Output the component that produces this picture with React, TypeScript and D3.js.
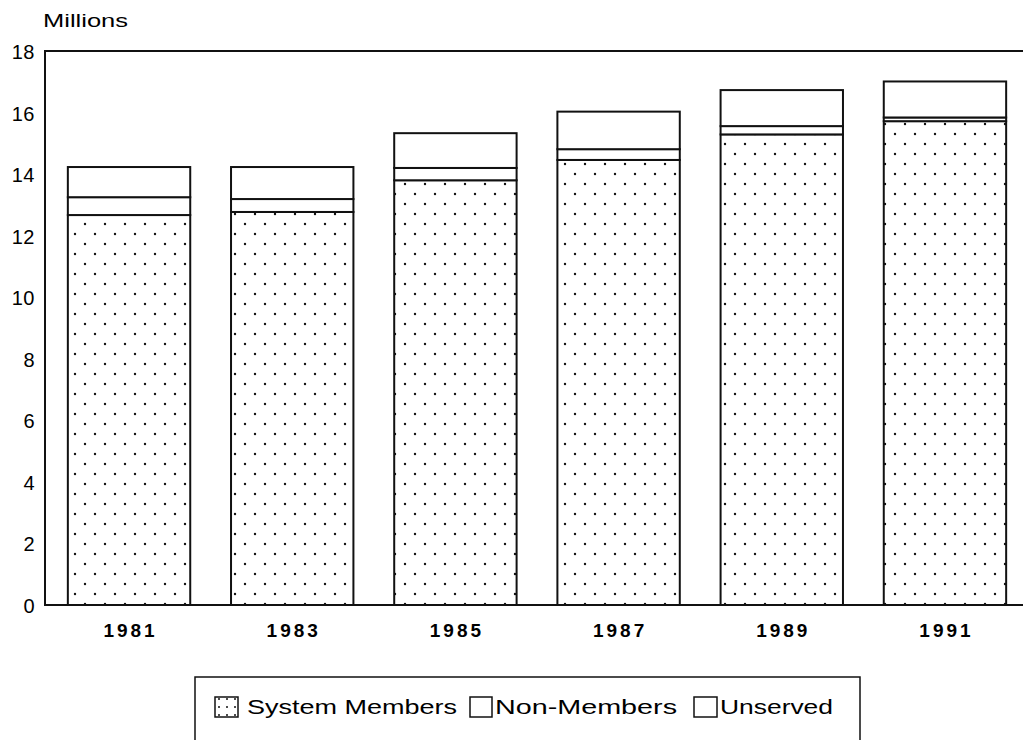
import React from 'react';
import * as d3 from 'd3';

const years = ['1981', '1983', '1985', '1987', '1989', '1991'];
const systemMembers = [12.67, 12.77, 13.8, 14.46, 15.29, 15.72];
const nonMembers = [0.58, 0.42, 0.4, 0.35, 0.27, 0.12];
const unserved = [0.98, 1.04, 1.13, 1.22, 1.17, 1.17];
const yTicks = [0, 2, 4, 6, 8, 10, 12, 14, 16, 18];
const seriesNames = ['System Members', 'Non-Members', 'Unserved'];

const width = 1023;
const height = 740;
const font = '"Liberation Sans", Arial, sans-serif';

export default function App() {
  const x = d3.scaleBand<string>()
    .domain(years)
    .range([45, 1029])
    .paddingInner(0.25)
    .paddingOuter(0.14);

  const y = d3.scaleLinear().domain([0, 18]).range([605, 51]);

  const rows = years.map((yr, i) => ({
    year: yr,
    sys: systemMembers[i],
    non: nonMembers[i],
    uns: unserved[i],
  }));
  const stack = d3.stack<typeof rows[number]>().keys(['sys', 'non', 'uns']);
  const layers = stack(rows);
  const fills = ['url(#dots)', 'white', 'white'];

  // legend layout (swatch x, label x, label width)
  const legendItems = [
    { swatch: 215, sw: 23, textX: 247, len: 210 },
    { swatch: 470, sw: 22, textX: 495, len: 182 },
    { swatch: 694, sw: 23, textX: 720, len: 113 },
  ];

  return (
    <svg
      width={width}
      height={height}
      style={{ position: 'absolute', left: 0, top: 0, background: 'white' }}
    >
      <defs>
        <pattern id="dots" patternUnits="userSpaceOnUse" width={20} height={20}>
          <rect width={20} height={20} fill="white" />
          <circle cx={5} cy={4} r={1.2} fill="#111" />
          <circle cx={15} cy={14} r={1.2} fill="#111" />
        </pattern>
        <pattern id="dotsLegend" patternUnits="userSpaceOnUse" width={8} height={8}>
          <rect width={8} height={8} fill="white" />
          <circle cx={3} cy={3} r={1} fill="#111" />
        </pattern>
      </defs>

      <text x={43} y={27} fontFamily={font} fontSize={18} textLength={85} lengthAdjust="spacingAndGlyphs">
        Millions
      </text>

      {yTicks.map((t) => (
        <text
          key={t}
          x={35}
          y={y(t) + 8}
          textAnchor="end"
          fontFamily={font}
          fontSize={20}
          letterSpacing={0.5}
        >
          {t}
        </text>
      ))}

      {layers.map((layer, li) =>
        layer.map((d, i) => (
          <rect
            key={`${li}-${i}`}
            x={x(years[i])}
            y={y(d[1])}
            width={x.bandwidth()}
            height={y(d[0]) - y(d[1])}
            fill={fills[li]}
            stroke="#111"
            strokeWidth={2}
          />
        ))
      )}

      <rect x={45} y={51} width={1010} height={554} fill="none" stroke="#111" strokeWidth={2} />

      {years.map((yr) => (
        <text
          key={yr}
          x={(x(yr) as number) + x.bandwidth() / 2 + 1.5}
          y={637}
          textAnchor="middle"
          fontFamily={font}
          fontSize={19}
          fontWeight="bold"
          letterSpacing={3}
        >
          {yr}
        </text>
      ))}

      <rect x={195} y={677} width={665} height={90} fill="none" stroke="#111" strokeWidth={1.5} />
      {legendItems.map((it, i) => (
        <g key={seriesNames[i]}>
          <rect
            x={it.swatch}
            y={697}
            width={it.sw}
            height={20}
            fill={i === 0 ? 'url(#dotsLegend)' : 'white'}
            stroke="#111"
            strokeWidth={1.5}
          />
          <text
            x={it.textX}
            y={714}
            fontFamily={font}
            fontSize={20}
            textLength={it.len}
            lengthAdjust="spacingAndGlyphs"
          >
            {seriesNames[i]}
          </text>
        </g>
      ))}
    </svg>
  );
}
